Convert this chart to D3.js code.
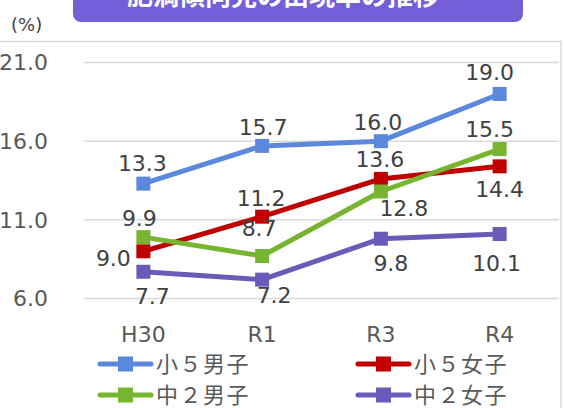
<!DOCTYPE html>
<html lang="ja">
<head>
<meta charset="utf-8">
<title>chart</title>
<script src="https://d3js.org/d3.v7.min.js"></script>
<style>
  body { margin: 0; background: #fff; }
  svg { display: block; }
</style>
</head>
<body>
<script>
// categories and values
var years = ["H30", "R1", "R3", "R4"];
var seriesNames = ["小５男子", "小５女子", "中２男子", "中２女子"];
var boys5 = [13.3, 15.7, 16.0, 19.0];
var girls5 = [9.0, 11.2, 13.6, 14.4];
var boys2 = [9.9, 8.7, 12.8, 15.5];
var girls2 = [7.7, 7.2, 9.8, 10.1];
var yTicks = [6.0, 11.0, 16.0, 21.0];
var titleText = "肥満傾向児の出現率の推移";

var colors = ["#5B87DD", "#C00000", "#77B530", "#6A5BB8"];
var allValues = [boys5, girls5, boys2, girls2];

// label offsets (dx, dy of baseline) per series/point, copied by eye
var labelOffsets = [
  [[-1, -13], [1, -11], [-3, -11], [-10, -14]],
  [[-30, 15], [-1, -11], [-1, -12], [0, 31]],
  [[-4, -11], [-3, -20], [23, 24], [-10, -12]],
  [[9, 32], [12, 23], [10, 32], [-3, 37]]
];

var w = 565, h = 408;
var svg = d3.select("body").append("svg").attr("width", w).attr("height", h);

// chart frame
svg.append("rect").attr("x", -10).attr("y", 41.5).attr("width", 571).attr("height", 400)
  .attr("fill", "#fff").attr("stroke", "#D9D9D9").attr("stroke-width", 1.5);

// title box (cut off at top)
svg.append("rect").attr("x", 73).attr("y", -20).attr("width", 450).attr("height", 42)
  .attr("rx", 8).attr("fill", "#755FD8");
svg.append("text").attr("x", 283).attr("y", 5).attr("text-anchor", "middle")
  .attr("fill", "#fff").attr("font-family", "Noto Sans CJK JP").attr("font-weight", "bold")
  .attr("font-size", 26).text(titleText);

svg.append("text").attr("x", 11).attr("y", 31).attr("fill", "#404040")
  .attr("font-family", "DejaVu Sans").attr("font-size", 18).text("(%)");

var x = d3.scalePoint().domain(years).range([84, 559]).padding(0.5);
var y = d3.scaleLinear().domain([6, 21]).range([298.5, 62.5]);

// grid lines
svg.append("g").selectAll("line").data(yTicks).join("line")
  .attr("x1", 84).attr("x2", 559)
  .attr("y1", d => y(d)).attr("y2", d => y(d))
  .attr("stroke", "#D9D9D9").attr("stroke-width", 1.5);

// y labels
svg.append("g").selectAll("text").data(yTicks).join("text")
  .attr("x", 48).attr("y", d => y(d)).attr("dy", "0.36em")
  .attr("text-anchor", "end").attr("fill", "#595959")
  .attr("font-family", "DejaVu Sans").attr("font-size", 22)
  .text(d => d3.format(".1f")(d));

// x labels
svg.append("g").selectAll("text").data(years).join("text")
  .attr("x", d => x(d)).attr("y", 342)
  .attr("text-anchor", "middle").attr("fill", "#595959")
  .attr("font-family", "DejaVu Sans").attr("font-size", 22)
  .text(d => d);

var line = d3.line().x((d, i) => x(years[i])).y(d => y(d));

allValues.forEach(function(vals, s) {
  var g = svg.append("g");
  g.append("path").datum(vals).attr("d", line)
    .attr("fill", "none").attr("stroke", colors[s]).attr("stroke-width", 5)
    .attr("stroke-linejoin", "round");
  g.selectAll("rect").data(vals).join("rect")
    .attr("x", (d, i) => x(years[i]) - 7).attr("y", d => y(d) - 7)
    .attr("width", 14).attr("height", 14).attr("fill", colors[s]);
});

// data labels on top
allValues.forEach(function(vals, s) {
  svg.append("g").selectAll("text").data(vals).join("text")
    .attr("x", (d, i) => x(years[i]) + labelOffsets[s][i][0])
    .attr("y", (d, i) => y(d) + labelOffsets[s][i][1])
    .attr("text-anchor", "middle").attr("fill", "#404040")
    .attr("font-family", "DejaVu Sans").attr("font-size", 22)
    .text(d => d3.format(".1f")(d));
});

// legend
var legendPos = [[98, 364], [356, 364], [98, 395], [356, 395]];
seriesNames.forEach(function(name, s) {
  var lx = legendPos[s][0], ly = legendPos[s][1];
  var g = svg.append("g");
  g.append("line").attr("x1", lx + 2).attr("x2", lx + 53).attr("y1", ly).attr("y2", ly)
    .attr("stroke", colors[s]).attr("stroke-width", 5).attr("stroke-linecap", "round");
  g.append("rect").attr("x", lx + 20).attr("y", ly - 7.5).attr("width", 15).attr("height", 15)
    .attr("fill", colors[s]);
  g.append("text").attr("x", lx + 58).attr("y", ly).attr("dy", "0.36em")
    .attr("fill", "#595959").attr("font-family", "Noto Sans CJK JP").attr("font-size", 22)
    .attr("letter-spacing", 1.5).text(name);
});
</script>
</body>
</html>
